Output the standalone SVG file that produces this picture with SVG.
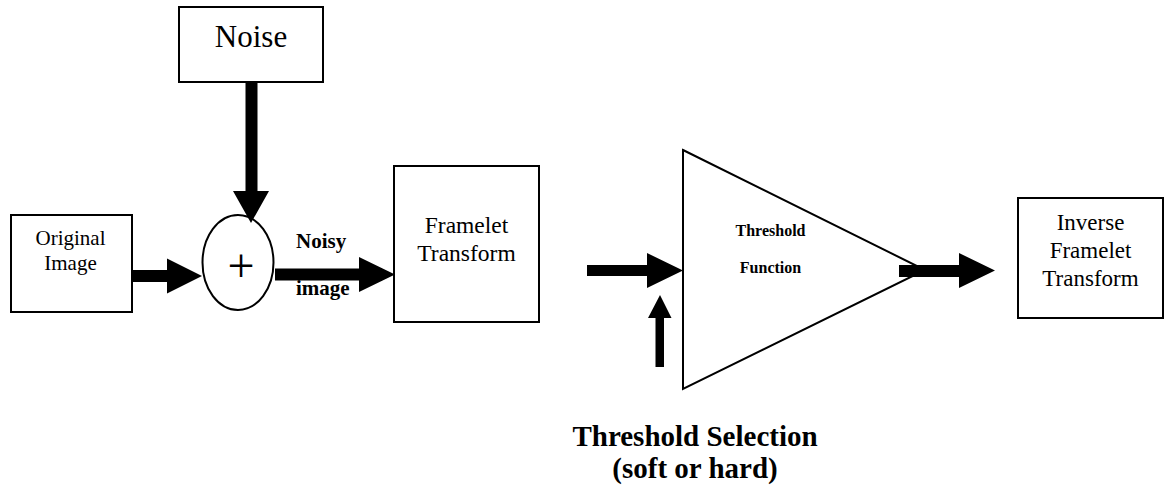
<svg xmlns="http://www.w3.org/2000/svg" width="1164" height="491" viewBox="0 0 1164 491">
  <style>
    .box { fill: #ffffff; stroke: #000000; stroke-width: 2; }
    .arrow { fill: #000000; stroke: none; }
    text { font-family: "Liberation Serif", "DejaVu Serif", serif; font-weight: normal; fill: #000000; text-anchor: middle; }
    text.b { font-weight: bold; }
  </style>
  <rect width="1164" height="491" fill="#ffffff"/>

  <g id="noise">
    <rect class="box" x="179" y="7" width="144" height="75"/>
    <text x="251" y="47" font-size="31">Noise</text>
  </g>

  <g id="original-image">
    <rect class="box" x="11" y="215" width="121" height="97"/>
    <text x="70.5" y="245" font-size="21">Original</text>
    <text x="70.5" y="270" font-size="21">Image</text>
  </g>

  <g id="adder">
    <ellipse class="box" cx="238" cy="262.5" rx="35.5" ry="47.5"/>
    <text x="241" y="281.5" font-size="48">+</text>
  </g>

  <g id="framelet-transform">
    <rect class="box" x="394" y="166" width="145" height="156"/>
    <text x="466.5" y="233" font-size="23.5">Framelet</text>
    <text x="466.5" y="261" font-size="23.5">Transform</text>
  </g>

  <g id="threshold-function">
    <polygon class="box" points="683,150 925,270 683,389"/>
    <text class="b" x="770.5" y="236" font-size="16">Threshold</text>
    <text class="b" x="770.5" y="273" font-size="16">Function</text>
  </g>

  <g id="inverse-framelet-transform">
    <rect class="box" x="1018" y="198" width="145" height="120"/>
    <text x="1090.5" y="230" font-size="23">Inverse</text>
    <text x="1090.5" y="258" font-size="23">Framelet</text>
    <text x="1090.5" y="286" font-size="23">Transform</text>
  </g>

  <g id="threshold-selection">
    <text class="b" x="695" y="446" font-size="29">Threshold Selection</text>
    <text class="b" x="695" y="478" font-size="29">(soft or hard)</text>
  </g>

  <g id="connectors">
    <!-- noise into adder -->
    <polygon class="arrow" points="245.5,82 257.5,82 257.5,191 269,191 251,223 233,191 245.5,191"/>
    <!-- original image into adder -->
    <polygon class="arrow" points="132,270 167,270 167,258.5 202,276 167,293.5 167,282 132,282"/>
    <!-- adder into framelet transform -->
    <polygon class="arrow" points="275,268.5 359,268.5 359,257 395,274.5 359,292 359,280.5 275,280.5"/>
    <text class="b" x="296" y="248" font-size="21" style="text-anchor:start">Noisy</text>
    <text class="b" x="296" y="295" font-size="21" style="text-anchor:start">image</text>
    <!-- coefficients into threshold function -->
    <polygon class="arrow" points="587,265 647,265 647,253 683,270.5 647,288 647,276 587,276"/>
    <!-- threshold selection input -->
    <polygon class="arrow" points="655.5,367 655.5,318 648,318 660,295 671.5,318 664,318 664,367"/>
    <!-- threshold function output -->
    <polygon class="arrow" points="899,265 959,265 959,253 995,270.5 959,288 959,277 899,277"/>
  </g>
</svg>
